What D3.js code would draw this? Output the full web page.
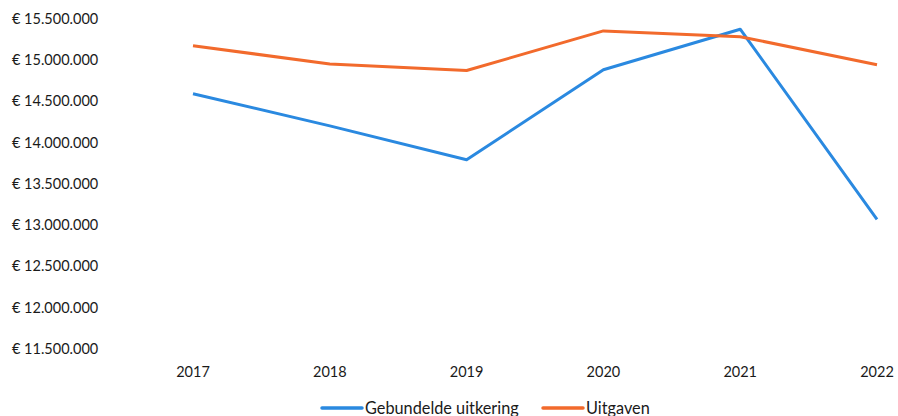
<!DOCTYPE html>
<html><head><meta charset="utf-8">
<script src="https://cdn.jsdelivr.net/npm/d3@7"></script>
<style>
html,body{margin:0;padding:0;background:#fff;}
text{font-family:Lato,"Open Sans",sans-serif;fill:#1a1a1a;}
</style></head>
<body><svg id="c" width="898" height="416"></svg>
<script>
const years = ["2017","2018","2019","2020","2021","2022"];
const gebundelde = [14590000, 14200000, 13790000, 14880000, 15370000, 13070000];
const uitgaven = [15170000, 14950000, 14870000, 15350000, 15280000, 14940000];
const yTicks = [11500000,12000000,12500000,13000000,13500000,14000000,14500000,15000000,15500000];
const seriesNames = ["Gebundelde uitkering","Uitgaven"];
const seriesColors = ["#2a89e0","#f26a2c"];

const svg = d3.select("#c");
const x = d3.scalePoint().domain(years).range([193, 877]);
const y = d3.scaleLinear().domain([11500000, 15500000]).range([349, 18.5]);

const fmt = v => "€ " + d3.format(",")(v).replace(/,/g, ".");

const yAxis = svg.append("g");
yAxis.selectAll("text").data(yTicks).join("text")
  .attr("x", 12).attr("y", d => y(d)).attr("dy", "0.35em")
  .attr("font-size", 14.5).text(fmt);

svg.append("g").selectAll("text").data(years).join("text")
  .attr("x", d => x(d)).attr("y", 372).attr("dy","0.35em")
  .attr("text-anchor","middle").attr("font-size", 14.5).text(d => d);

const line = d3.line().x((d,i) => x(years[i])).y(d => y(d));
[gebundelde, uitgaven].forEach((s, i) => {
  svg.append("path").datum(s).attr("d", line)
    .attr("fill","none").attr("stroke", seriesColors[i])
    .attr("stroke-width", 3).attr("stroke-linejoin","round");
});

const legendX = [322, 543];
seriesNames.forEach((n, i) => {
  const g = svg.append("g").attr("transform", `translate(${legendX[i]},408)`);
  g.append("line").attr("x1",0).attr("x2",40).attr("y1",0).attr("y2",0)
    .attr("stroke", seriesColors[i]).attr("stroke-width",3.5).attr("stroke-linecap","round");
  g.append("text").attr("x", 43).attr("y", 0).attr("dy","0.35em")
    .attr("font-size", 16.3).text(n);
});
</script></body></html>
